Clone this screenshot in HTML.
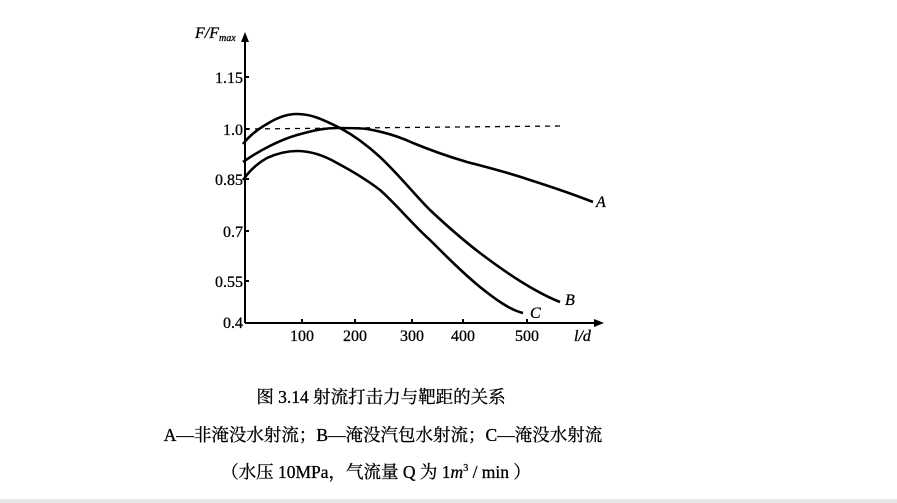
<!DOCTYPE html>
<html><head><meta charset="utf-8"><style>
html,body{margin:0;padding:0;background:#fff;width:897px;height:503px;overflow:hidden}
svg{position:absolute;left:0;top:0}
</style></head><body>
<svg width="897" height="503" viewBox="0 0 897 503" xmlns="http://www.w3.org/2000/svg">
<rect x="0" y="499" width="897" height="4" fill="#e6e6e6"/>
<g stroke="#000" fill="none" stroke-width="2">
<line x1="245" y1="323" x2="245" y2="38"/>
<line x1="245" y1="323" x2="598" y2="323"/>
<line x1="245" y1="77" x2="249" y2="77"/>
<line x1="245" y1="129" x2="249" y2="129"/>
<line x1="245" y1="179" x2="249" y2="179"/>
<line x1="245" y1="231" x2="249" y2="231"/>
<line x1="245" y1="281" x2="249" y2="281"/>
<line x1="302" y1="323" x2="302" y2="319"/>
<line x1="355" y1="323" x2="355" y2="319"/>
<line x1="412" y1="323" x2="412" y2="319"/>
<line x1="463" y1="323" x2="463" y2="319"/>
<line x1="527" y1="323" x2="527" y2="319"/>
<line x1="245" y1="129" x2="562" y2="126" stroke-width="1.3" stroke-dasharray="5,5"/>
<path stroke-width="2.6" d="M243,162 C260,150 280,140 297,135 C315,130 325,128 337,128 C350,128 360,128 367,129 C385,132 400,137 413,143 C430,150 450,157 467,162 C490,168 510,173 530,180 C555,188 575,195 593,202"/>
<path stroke-width="2.6" d="M243,144 C250,135 258,129 267,124 C278,117 288,114 297,114 C310,114 320,118 340,128 C355,136 368,146 380,157 C400,176 415,195 430,210 C447,226 463,240 480,253 C505,272 535,292 560,302"/>
<path stroke-width="2.6" d="M243,180 C250,170 258,163 267,158 C278,153 288,151 297,151 C312,151 325,156 337,163 C352,171 367,180 380,190 C397,205 413,225 430,240 C447,257 463,273 480,287 C495,299 510,310 523,313"/>
</g>
<path d="M245,32 L241,42 L249,42 Z" fill="#000"/>
<path d="M604,323 L594,319 L594,327 Z" fill="#000"/>
<g font-family="Liberation Serif, serif" font-size="16" fill="#000" text-anchor="end" stroke="#000" stroke-width="0.3">
<text x="243" y="83">1.15</text>
<text x="243" y="135">1.0</text>
<text x="243" y="185">0.85</text>
<text x="243" y="237">0.7</text>
<text x="243" y="287">0.55</text>
<text x="243" y="328">0.4</text>
</g>
<g font-family="Liberation Serif, serif" font-size="16" fill="#000" text-anchor="middle" stroke="#000" stroke-width="0.3">
<text x="302" y="341">100</text>
<text x="355" y="341">200</text>
<text x="412" y="341">300</text>
<text x="463" y="341">400</text>
<text x="527" y="341">500</text>
</g>
<g font-family="Liberation Serif, serif" font-style="italic" font-size="16" fill="#000" stroke="#000" stroke-width="0.3">
<text x="574" y="341">l/d</text>
<text x="596" y="207">A</text>
<text x="565" y="305">B</text>
<text x="530" y="318">C</text>
<text x="195" y="38">F/F<tspan font-size="10" dy="3">max</tspan></text>
</g>
<g font-family="Liberation Serif, 'Noto Serif CJK SC', serif" font-size="17.5" fill="#000" text-anchor="middle" stroke="#000" stroke-width="0.3">
<text x="381" y="403">图 3.14 射流打击力与靶距的关系</text>
<text x="383" y="441">A—非淹没水射流；B—淹没汽包水射流；C—淹没水射流</text>
<text x="376" y="478">（水压 10MPa，气流量 Q 为 1<tspan font-style="italic">m</tspan><tspan font-size="10" dy="-7">3</tspan><tspan dy="7"> / min ）</tspan></text>
</g>
</svg>
</body></html>
